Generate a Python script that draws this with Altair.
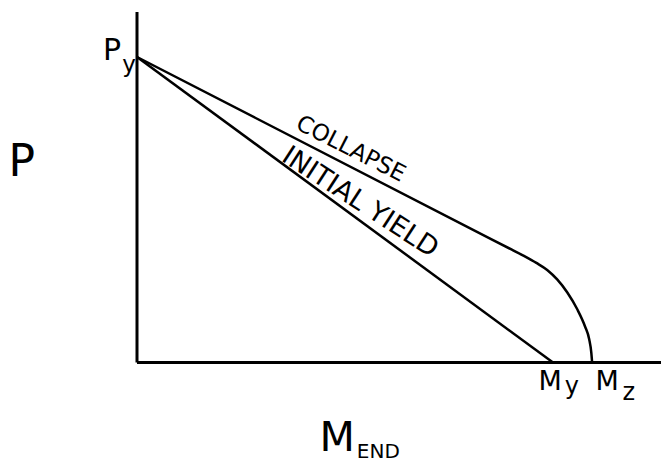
import altair as alt
import pandas as pd

# Interaction diagram: axial load P vs end moment M_END (normalised: Py = 1, My = 1)
yield_m = [0.0, 1.0]
yield_p = [1.0, 0.0]

collapse_m = [0.0, 0.850, 0.900, 0.930, 0.960, 0.986, 1.010, 1.034, 1.058, 1.077, 1.087, 1.092, 1.094]
collapse_p = [1.0, 0.405, 0.370, 0.349, 0.326, 0.303, 0.272, 0.230, 0.175, 0.118, 0.076, 0.033, 0.0]

# axes drawn as rules: (m, m2, p, p2)
axis_m = [0.0, 0.0]
axis_m2 = [1.2596, 0.0]
axis_p = [0.0, 0.0]
axis_p2 = [0.0, 1.147]

label_text = ["P", "P", "y", "M", "y", "M", "z", "M", "END", "COLLAPSE", "INITIAL YIELD"]
label_m = [-0.277, -0.060, -0.019, 0.993, 1.045, 1.130, 1.182, 0.481, 0.580, 0.514, 0.536]
label_p = [0.653, 1.020, 0.975, -0.064, -0.080, -0.064, -0.100, -0.250, -0.293, 0.699, 0.524]
label_size = [44, 30, 23, 27, 24, 27, 24, 41, 20, 23, 27]
label_angle = [0, 0, 0, 0, 0, 0, 0, 0, 0, 27, 33]

lines = pd.concat([
    pd.DataFrame({"m": yield_m, "p": yield_p, "curve": "yield", "i": range(len(yield_m))}),
    pd.DataFrame({"m": collapse_m, "p": collapse_p, "curve": "collapse", "i": range(len(collapse_m))}),
])
axes = pd.DataFrame({"m": axis_m, "m2": axis_m2, "p": axis_p, "p2": axis_p2})
labels = pd.DataFrame({"t": label_text, "m": label_m, "p": label_p,
                       "s": label_size, "a": label_angle})

xs = alt.Scale(domain=[-0.3101, 1.2596], nice=False, zero=False)
ys = alt.Scale(domain=[-0.3322, 1.1604], nice=False, zero=False)

axis_rules = alt.Chart(axes).mark_rule(color="black", strokeWidth=3).encode(
    x=alt.X("m:Q", scale=xs, axis=None),
    x2="m2:Q",
    y=alt.Y("p:Q", scale=ys, axis=None),
    y2="p2:Q",
)

curves = alt.Chart(lines).mark_line(color="black", strokeWidth=2.5, interpolate="monotone").encode(
    x=alt.X("m:Q", scale=xs, axis=None),
    y=alt.Y("p:Q", scale=ys, axis=None),
    detail="curve:N",
    order="i:Q",
)

texts = alt.Chart(labels).mark_text(
    color="black", font="DejaVu Sans", align="center", baseline="middle"
).encode(
    x=alt.X("m:Q", scale=xs, axis=None),
    y=alt.Y("p:Q", scale=ys, axis=None),
    text="t:N",
    size=alt.Size("s:Q", scale=None),
    angle=alt.Angle("a:Q", scale=None),
)

chart = (axis_rules + curves + texts).properties(
    width=653, height=456,
    autosize=alt.AutoSizeParams(type="none"),
    padding=0,
    background="white",
).configure_view(stroke=None)

chart.save("out.html", embed_options={"renderer": "svg", "actions": False})
